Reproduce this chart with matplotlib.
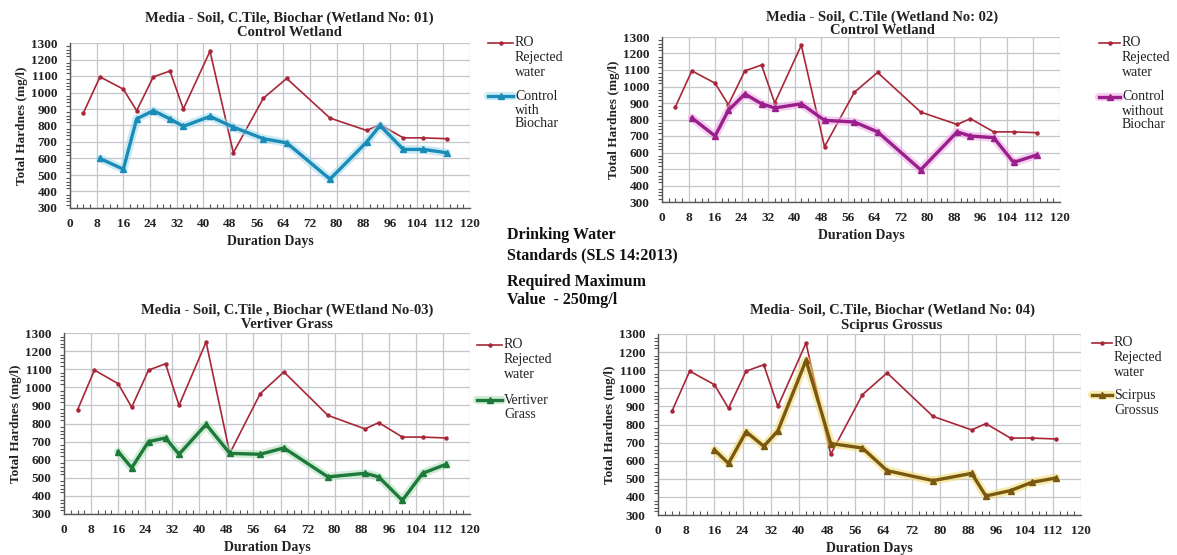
import matplotlib
matplotlib.use('Agg')
import matplotlib.pyplot as plt
from matplotlib.lines import Line2D
from matplotlib.ticker import MultipleLocator

# ---------------- data ----------------
ro_days = [4, 9, 16, 20, 25, 30, 34, 42, 49, 58, 65, 78, 89, 93, 100, 106, 113]
ro_values = [875, 1095, 1020, 890, 1095, 1130, 900, 1250, 635, 965, 1085, 845, 770, 805, 725, 725, 720]

w1_days = [9, 16, 20, 25, 30, 34, 42, 49, 58, 65, 78, 89, 93, 100, 106, 113]
w1_values = [600, 535, 840, 890, 840, 795, 855, 790, 720, 695, 475, 700, 800, 655, 655, 635]

w2_days = [9, 16, 20, 25, 30, 34, 42, 49, 58, 65, 78, 89, 93, 100, 106, 113]
w2_values = [810, 700, 855, 955, 895, 870, 895, 795, 785, 725, 495, 725, 700, 690, 540, 585]

w3_days = [16, 20, 25, 30, 34, 42, 49, 58, 65, 78, 89, 93, 100, 106, 113]
w3_values = [645, 555, 700, 720, 630, 795, 635, 630, 665, 505, 525, 505, 375, 525, 575]

w4_days = [16, 20, 25, 30, 34, 42, 49, 58, 65, 78, 89, 93, 100, 106, 113]
w4_values = [660, 585, 760, 680, 765, 1155, 695, 670, 545, 490, 530, 405, 435, 480, 505]

titles = [
    ("Media - Soil, C.Tile, Biochar (Wetland No: 01)", "Control Wetland"),
    ("Media - Soil, C.Tile (Wetland No: 02)", "Control Wetland"),
    ("Media - Soil, C.Tile , Biochar (WEtland No-03)", "Vertiver Grass"),
    ("Media- Soil, C.Tile, Biochar (Wetland No: 04)", "Sciprus Grossus"),
]
ro_label = ["RO", "Rejected", "water"]
series_labels = [["Control", "with", "Biochar"],
                 ["Control", "without", "Biochar"],
                 ["Vertiver", "Grass"],
                 ["Scirpus", "Grossus"]]
x_label = "Duration Days"
y_label = "Total Hardnes (mg/l)"
note_lines = ["Drinking Water", "Standards (SLS 14:2013)", "Required Maximum", "Value  - 250mg/l"]

# ---------------- style ----------------
W, H = 1177, 555
FONT = "Liberation Serif"
plt.rcParams['font.family'] = [FONT, 'DejaVu Serif']

ro_color = '#A82638'
series_colors = ['#1A8CB8', '#9A1F8C', '#1D7A3A', '#7A5812']
glow_colors = ['#A6DAEE', '#EDA9E4', '#AEDDB8', '#F1DC6A']

# axes boxes in pixel coordinates: left, right, top, bottom
boxes = [(70, 470, 43, 208), (662, 1060, 37, 202), (64, 470, 333, 514), (658, 1081, 334, 515)]
title_pos = [(289, 18, 32), (882, 17, 31), (287, 310, 325), (892, 310, 325)]
legend_pos = [  # line x0, x1, text x, first-row ys, second-row ys
    (488, 513, 515, [43, 58, 73], [96, 110, 124]),
    (1099, 1120, 1122, [43, 57, 72], [97, 112, 125]),
    (477, 502, 504, [345, 360, 375], [400, 415]),
    (1092, 1112, 1114, [343, 358, 373], [395, 410]),
]
ylabel_x = [22, 614, 16, 610]

fig = plt.figure(figsize=(W / 100, H / 100), dpi=100)
fig.patch.set_facecolor('white')


def fx(px):
    return px / W


def fy(py):
    return 1 - py / H


datasets = [(w1_days, w1_values), (w2_days, w2_values), (w3_days, w3_values), (w4_days, w4_values)]

for i in range(4):
    l, r, t, b = boxes[i]
    ax = fig.add_axes([fx(l), fy(b), fx(r) - fx(l), fy(t) - fy(b)])
    ax.set_xlim(0, 120)
    ax.set_ylim(300, 1300)
    ax.xaxis.set_major_locator(MultipleLocator(8))
    ax.xaxis.set_minor_locator(MultipleLocator(2))
    ax.yaxis.set_major_locator(MultipleLocator(100))
    ax.yaxis.set_minor_locator(MultipleLocator(20))
    ax.grid(True, which='major', color='#C4C6CC', linewidth=0.9)
    ax.set_axisbelow(True)
    for s in ['top', 'right']:
        ax.spines[s].set_visible(False)
    for s in ['left', 'bottom']:
        ax.spines[s].set_color('#555555')
        ax.spines[s].set_linewidth(1.0)
    ax.tick_params(axis='both', which='both', color='#555555', width=0.8)
    ax.tick_params(axis='x', which='major', length=0, pad=7)
    ax.tick_params(axis='x', which='minor', length=3, direction='in')
    ax.tick_params(axis='y', which='major', length=0, pad=9)
    ax.tick_params(axis='y', which='minor', length=3, direction='out')
    for lab in ax.get_xticklabels() + ax.get_yticklabels():
        lab.set_fontweight('bold')
        lab.set_fontsize(9.5)
        lab.set_color('#222222')
    ax.set_xlabel(x_label, fontsize=10, fontweight='bold', labelpad=4, color='#222222')

    # RO series
    ax.plot(ro_days, ro_values, color=ro_color, linewidth=1.2, marker='o', markersize=2.2,
            zorder=3)
    d, v = datasets[i]
    # soft glow beneath the series line
    ax.plot(d, v, color=glow_colors[i], linewidth=6, alpha=0.55, solid_joinstyle='round',
            solid_capstyle='round', zorder=3.5)
    ax.plot(d, v, color=series_colors[i], linewidth=2.4, marker='^', markersize=4.5,
            zorder=4, solid_joinstyle='round')

    # y label
    fig.text(fx(ylabel_x[i]), fy((t + b) / 2), y_label, rotation=90, ha='center', va='center',
             fontsize=9.5, fontweight='bold', color='#222222')

    # titles
    cx, y1, y2 = title_pos[i]
    fig.text(fx(cx), fy(y1), titles[i][0], ha='center', va='center', fontsize=10.5,
             fontweight='bold', color='#222222')
    fig.text(fx(cx), fy(y2), titles[i][1], ha='center', va='center', fontsize=10.5,
             fontweight='bold', color='#222222')

    # legend (manual)
    x0, x1, tx, rows1, rows2 = legend_pos[i]
    xm = (x0 + x1) / 2
    lx = [fx(x0), fx(xm), fx(x1)]
    fig.add_artist(Line2D(lx, [fy(rows1[0])] * 3, color=ro_color, linewidth=1.2,
                          marker='o', markersize=2.2, markevery=[1], transform=fig.transFigure))
    for yy, txt in zip(rows1, ro_label):
        fig.text(fx(tx), fy(yy), txt, ha='left', va='center', fontsize=10, color='#222222')
    fig.add_artist(Line2D(lx, [fy(rows2[0])] * 3, color=glow_colors[i], linewidth=6,
                          alpha=0.55, solid_capstyle='round', transform=fig.transFigure))
    fig.add_artist(Line2D(lx, [fy(rows2[0])] * 3, color=series_colors[i], linewidth=2.4,
                          marker='^', markersize=4, markevery=[1], transform=fig.transFigure))
    for yy, txt in zip(rows2, series_labels[i]):
        fig.text(fx(tx), fy(yy), txt, ha='left', va='center', fontsize=10, color='#222222')

# central note
for yy, txt in zip([235, 255, 282, 300], note_lines):
    fig.text(fx(507), fy(yy), txt, ha='left', va='center', fontsize=11.5, fontweight='bold',
             color='#111111')

fig.savefig('out.png', dpi=100, facecolor='white')
